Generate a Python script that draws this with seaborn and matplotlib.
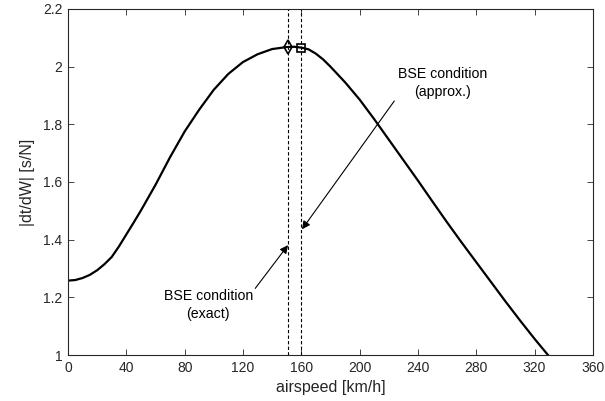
import matplotlib
matplotlib.use("Agg")
import matplotlib.pyplot as plt
import seaborn as sns
import pandas as pd

# Curve data
airspeed = [0, 5, 10, 15, 20, 25, 30, 35, 40, 45, 50, 60, 70, 80, 90, 100, 110,
            120, 130, 140, 150, 155, 160, 165, 170, 175, 180, 190, 200, 210,
            220, 230, 240, 250, 260, 270, 280, 290, 300, 310, 320, 330]
dtdw = [1.258, 1.260, 1.267, 1.278, 1.294, 1.315, 1.340, 1.377, 1.418, 1.459,
        1.501, 1.590, 1.686, 1.775, 1.851, 1.920, 1.975, 2.016, 2.043, 2.061,
        2.068, 2.069, 2.066, 2.060, 2.045, 2.025, 2.000, 1.946, 1.886, 1.818,
        1.747, 1.676, 1.605, 1.532, 1.460, 1.390, 1.322, 1.254, 1.186, 1.120,
        1.056, 0.995]

bse_exact = (151, 2.069)
bse_approx = (160, 2.066)

xticks = [0, 40, 80, 120, 160, 200, 240, 280, 320, 360]
yticks = [1, 1.2, 1.4, 1.6, 1.8, 2, 2.2]
yticklabels = ["1", "1.2", "1.4", "1.6", "1.8", "2", "2.2"]

sns.set_style("white")
plt.rcParams["font.family"] = ["Liberation Sans", "DejaVu Sans"]

fig = plt.figure(figsize=(6.05, 4.01), dpi=100)
ax = fig.add_axes([0.1124, 0.1147, 0.980 - 0.1124, 0.9776 - 0.1147])

df = pd.DataFrame({"airspeed": airspeed, "dtdw": dtdw})
sns.lineplot(data=df, x="airspeed", y="dtdw", ax=ax, color="black", linewidth=1.6)

ax.axvline(bse_exact[0], color="black", linestyle=(0, (3, 2)), linewidth=0.8)
ax.axvline(bse_approx[0], color="black", linestyle=(0, (3, 2)), linewidth=0.8)
ax.plot([bse_exact[0]], [bse_exact[1]], marker="d", markersize=7,
        markerfacecolor="none", markeredgecolor="black", markeredgewidth=1.2)
ax.plot([bse_approx[0]], [bse_approx[1]], marker="s", markersize=5.5,
        markerfacecolor="none", markeredgecolor="black", markeredgewidth=1.2)

arrow = dict(arrowstyle="-|>", color="black", lw=0.8, mutation_scale=12,
             shrinkA=0, shrinkB=0)
ax.annotate("", xy=(150.9, 1.381), xytext=(128.4, 1.231), arrowprops=arrow)
ax.annotate("", xy=(160.5, 1.436), xytext=(223.8, 1.881), arrowprops=arrow)
ax.text(96.2, 1.173, "BSE condition\n(exact)", ha="center", va="center",
        fontsize=10.2, linespacing=1.3, color="black")
ax.text(257, 1.943, "BSE condition\n(approx.)", ha="center", va="center",
        fontsize=10.2, linespacing=1.3, color="black")

ax.set_xlim(0, 360)
ax.set_ylim(1, 2.2)
ax.set_xticks(xticks)
ax.set_xticklabels([str(t) for t in xticks])
ax.set_yticks(yticks)
ax.set_yticklabels(yticklabels)
ax.set_xlabel("airspeed [km/h]", fontsize=11.5, color="#262626", labelpad=4)
ax.set_ylabel("|dt/dW| [s/N]", fontsize=11.5, color="#262626", labelpad=6)

for s in ax.spines.values():
    s.set_visible(True)
    s.set_color("#262626")
    s.set_linewidth(0.8)
ax.tick_params(direction="in", top=True, right=True, bottom=True, left=True,
               length=4, width=0.6, colors="#262626", labelsize=10, pad=4)
ax.grid(False)

fig.savefig("out.png", dpi=100)
